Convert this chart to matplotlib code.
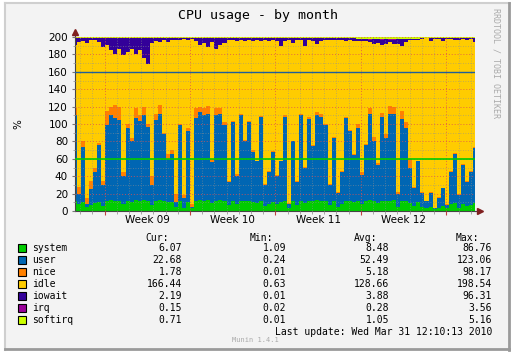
import numpy as np
import matplotlib
matplotlib.use("Agg")
import matplotlib.pyplot as plt
from matplotlib.patches import Rectangle
import matplotlib.transforms as mtransforms

# cpu time per 8h sample, stacked in munin order (2 cpus -> 200%)
system = [12, 8, 10, 5, 7, 9, 10, 6, 12, 13, 12, 11, 8, 12, 10, 13, 12, 13, 11, 7, 12, 13, 11, 10, 10,
          5, 12, 4, 10, 3, 12, 13, 12, 13, 9, 12, 13, 12, 7, 12, 8, 12, 11, 12, 10, 9, 12, 6, 8, 10,
          8, 10, 12, 3, 11, 7, 12, 9, 12, 11, 13, 12, 12, 7, 11, 5, 8, 12, 11, 10, 12, 8, 11, 13, 11,
          9, 12, 11, 12, 13, 5, 12, 11, 9, 6, 10, 5, 4, 5, 2, 4, 6, 3, 8, 9, 4, 8, 6, 7, 9]
user = [98, 12, 64, 3, 18, 36, 66, 24, 87, 97, 95, 94, 32, 83, 70, 94, 91, 97, 86, 23, 93, 99, 77, 50, 56,
        5, 87, 11, 82, 2, 95, 101, 98, 99, 47, 98, 99, 87, 26, 90, 32, 98, 69, 90, 58, 48, 96, 24, 37, 58,
        32, 47, 96, 5, 69, 26, 98, 41, 94, 64, 97, 96, 87, 23, 73, 16, 37, 95, 81, 54, 83, 33, 65, 99, 69,
        44, 96, 73, 100, 99, 15, 94, 84, 40, 20, 47, 16, 7, 16, 1, 11, 20, 4, 37, 57, 14, 45, 27, 38, 63]
nice = [8, 8, 6, 7, 10, 5, 2, 5, 16, 10, 15, 15, 5, 5, 4, 11, 7, 10, 3, 10, 7, 10, 2, 5, 4,
        10, 1, 3, 3, 3, 11, 6, 8, 9, 4, 8, 6, 3, 2, 2, 2, 2, 2, 2, 2, 1, 1, 1, 1, 1,
        1, 1, 2, 1, 1, 1, 1, 1, 2, 1, 4, 4, 1, 1, 1, 1, 1, 1, 1, 1, 5, 4, 1, 6, 5,
        2, 5, 4, 9, 8, 2, 9, 7, 11, 2, 1, 1, 1, 1, 1, 1, 1, 1, 1, 1, 1, 1, 1, 1, 1]
iowait = [8, 5, 3, 6, 3, 2, 4, 10, 8, 14, 18, 12, 20, 16, 12, 18, 14, 22, 30, 6, 3, 4, 2, 5, 2,
          3, 2, 1, 2, 1, 3, 8, 6, 10, 5, 12, 8, 6, 3, 2, 4, 2, 3, 2, 3, 2, 3, 2, 3, 2,
          3, 9, 3, 2, 6, 3, 2, 9, 2, 3, 6, 3, 2, 3, 2, 3, 2, 3, 2, 3, 2, 2, 2, 3, 5,
          4, 6, 5, 3, 5, 6, 7, 3, 1, 1, 0.5, 1, 0.5, 3, 1, 1, 3, 1, 1, 2, 3, 1, 2, 1, 5]
irq = [0.3, 0.2, 0.3, 0.2, 0.2, 0.3, 0.3, 0.2, 0.4, 0.3, 0.4, 0.3, 0.2, 0.3, 0.3, 0.4, 0.3, 0.4, 0.3, 0.2, 0.3, 0.4, 0.3, 0.3, 0.3,
       0.2, 0.3, 0.2, 0.3, 0.2, 0.3, 0.4, 0.3, 0.4, 0.3, 0.3, 0.4, 0.3, 0.2, 0.3, 0.2, 0.3, 0.3, 0.3, 0.3, 0.2, 0.3, 0.2, 0.2, 0.3,
       0.2, 0.3, 0.3, 0.2, 0.3, 0.2, 0.3, 0.3, 0.3, 0.3, 0.4, 0.3, 0.3, 0.2, 0.3, 0.2, 0.2, 0.3, 0.3, 0.3, 0.3, 0.2, 0.3, 0.4, 0.3,
       0.3, 0.3, 0.3, 0.4, 0.3, 0.2, 0.3, 0.3, 0.3, 0.2, 0.3, 0.2, 0.2, 0.2, 0.2, 0.2, 0.2, 0.2, 0.3, 0.3, 0.2, 0.3, 0.2, 0.2, 0.2]
softirq = [1.0, 0.8, 0.9, 0.7, 0.8, 0.9, 1.0, 0.8, 1.1, 1.2, 1.1, 1.0, 0.9, 1.1, 1.0, 1.2, 1.1, 1.2, 1.0, 0.8, 1.1, 1.2, 1.0, 1.0, 1.0,
           0.8, 1.1, 0.7, 1.0, 0.7, 1.1, 1.2, 1.1, 1.2, 0.9, 1.1, 1.2, 1.1, 0.8, 1.1, 0.9, 1.1, 1.0, 1.1, 1.0, 0.9, 1.1, 0.8, 0.9, 1.0,
           0.9, 1.0, 1.1, 0.7, 1.0, 0.8, 1.1, 0.9, 1.1, 1.0, 1.2, 1.1, 1.1, 0.8, 1.0, 0.8, 0.9, 1.1, 1.0, 1.0, 2.4, 2.2, 2.5, 2.6, 2.3,
           2.2, 2.6, 2.4, 2.7, 2.6, 2.0, 2.5, 2.4, 2.2, 1.9, 2.1, 1.0, 0.8, 0.9, 0.7, 0.8, 0.9, 0.7, 0.9, 1.0, 0.8, 0.9, 0.8, 0.8, 0.9]
total_cpu = 200
idle = total_cpu - (np.array(system) + np.array(user) + np.array(nice)
                    + np.array(iowait) + np.array(irq) + np.array(softirq))

# time axis in days since monday of week 09
t_start, t_end = -2.42, 30.35
week_starts = [0, 7, 14, 21, 28]
week_labels = ["Week 09", "Week 10", "Week 11", "Week 12"]

names = ["system", "user", "nice", "idle", "iowait", "irq", "softirq"]
colors = ["#00CC00", "#0066B3", "#FF8000", "#FFCC00", "#330099", "#990099", "#CCFF00"]
cur = ["6.07", "22.68", "1.78", "166.44", "2.19", "0.15", "0.71"]
mins = ["1.09", "0.24", "0.01", "0.63", "0.01", "0.02", "0.01"]
avgs = ["8.48", "52.49", "5.18", "128.66", "3.88", "0.28", "1.05"]
maxs = ["86.76", "123.06", "98.17", "198.54", "96.31", "3.56", "5.16"]

W, H = 511, 352
fig = plt.figure(figsize=(W / 100, H / 100), dpi=100)
fig.patch.set_facecolor("white")

def px(x, y):
    return (x / W, 1 - y / H)

# 3d-ish frame
fig.patches.append(Rectangle(px(5, 350), 505 / W, 347 / H, transform=fig.transFigure,
                             facecolor="#F3F3F3", edgecolor="none", zorder=-10))
fig.add_artist(plt.Line2D([5 / W, 5 / W], [1 - 350 / H, 1 - 3 / H], color="#CFCFCF", lw=1.5))
fig.add_artist(plt.Line2D([5 / W, 510 / W], [1 - 3 / H, 1 - 3 / H], color="#CFCFCF", lw=1.5))
fig.add_artist(plt.Line2D([509 / W, 509 / W], [1 - 350 / H, 1 - 3 / H], color="#9A9A9A", lw=2))
fig.add_artist(plt.Line2D([5 / W, 510 / W], [1 - 349 / H, 1 - 349 / H], color="#9A9A9A", lw=2))

ax = fig.add_axes([75 / W, 1 - 211 / H, 400 / W, 174 / H])
ax.set_facecolor("white")

x = np.linspace(t_start, t_end, len(system))
ax.stackplot(x, system, user, nice, idle, iowait, irq, softirq,
             colors=colors, step="mid", linewidth=0, antialiased=False)

ax.axhline(160, color="#1F5F9A", lw=1, zorder=4)
ax.axhline(60, color="#00CC00", lw=1.2, zorder=4)

ax.set_xlim(t_start, t_end)
ax.set_ylim(0, 200)

# grid on top of areas, like rrdtool
ax.set_yticks(np.arange(0, 201, 20))
ax.set_yticks(np.arange(0, 201, 10), minor=True)
ax.set_xticks(week_starts)
ax.set_xticks(np.arange(-2, 31, 1), minor=True)
ax.set_xticklabels([])
ax.grid(True, which="major", color="#E05050", lw=0.7, ls=(0, (1, 2)), alpha=0.8, zorder=3)
ax.grid(True, which="minor", color="#909090", lw=0.6, ls=(0, (1, 2)), alpha=0.7, zorder=3)
ax.set_axisbelow(False)

ax.tick_params(axis="y", which="major", length=2, pad=3, labelsize=7.5, color="#777777")
ax.tick_params(axis="y", which="minor", length=1.5, color="#999999")
ax.tick_params(axis="x", which="major", length=3, color="#C04040")
ax.tick_params(axis="x", which="minor", length=2, color="#999999")

for s in ["top", "right"]:
    ax.spines[s].set_visible(False)
for s in ["left", "bottom"]:
    ax.spines[s].set_color("#444444")
    ax.spines[s].set_linewidth(0.8)

# axis arrows
ax.plot([0, 0], [1, 1.035], color="#444444", lw=0.8, transform=ax.transAxes, clip_on=False)
ax.plot([1, 1.015], [0, 0], color="#444444", lw=0.8, transform=ax.transAxes, clip_on=False)
ax.plot([0], [1.03], marker="^", ms=4, color="#7F1F1F", transform=ax.transAxes, clip_on=False)
ax.plot([1.013], [0], marker=">", ms=4, color="#7F1F1F", transform=ax.transAxes, clip_on=False)

trans = mtransforms.blended_transform_factory(ax.transData, ax.transAxes)
for i, lab in enumerate(week_labels):
    ax.text(week_starts[i] + 3.5, -0.052, lab, transform=trans, ha="center", va="center",
            fontsize=7.5, family="DejaVu Sans")

ax.set_ylabel("%", fontsize=7.5)
ax.yaxis.set_label_coords(-0.13, 0.5)

mono = "DejaVu Sans Mono"
fig.text(258 / W, 1 - 16 / H, "CPU usage - by month", ha="center", va="center",
         fontsize=9.5, family=mono)
fig.text(496 / W, 1 - 63 / H, "RRDTOOL / TOBI OETIKER", ha="center", va="center",
         rotation=270, fontsize=6, family=mono, color="#AAAAAA")

# legend table
for hdr, xr in zip(["Cur:", "Min:", "Avg:", "Max:"], [169, 273, 377, 479]):
    fig.text(xr / W, 1 - 238 / H, hdr, ha="right", va="center", fontsize=7, family=mono)
for i, name in enumerate(names):
    yy = 248 + 12 * i
    fig.patches.append(Rectangle(px(18, yy + 4), 8 / W, 8 / H, transform=fig.transFigure,
                                 facecolor=colors[i], edgecolor="black", lw=0.8))
    fig.text(32 / W, 1 - yy / H, name, ha="left", va="center", fontsize=7, family=mono)
    for val, xr in zip([cur[i], mins[i], avgs[i], maxs[i]], [182, 286, 389, 492]):
        fig.text(xr / W, 1 - yy / H, val, ha="right", va="center", fontsize=7, family=mono)

fig.text(492 / W, 1 - 332 / H, "Last update: Wed Mar 31 12:10:13 2010", ha="right",
         va="center", fontsize=7, family=mono)
fig.text(255 / W, 1 - 340 / H, "Munin 1.4.1", ha="center", va="center",
         fontsize=5, family=mono, color="#AAAAAA")

fig.savefig("out.png", dpi=100, facecolor=fig.get_facecolor())
